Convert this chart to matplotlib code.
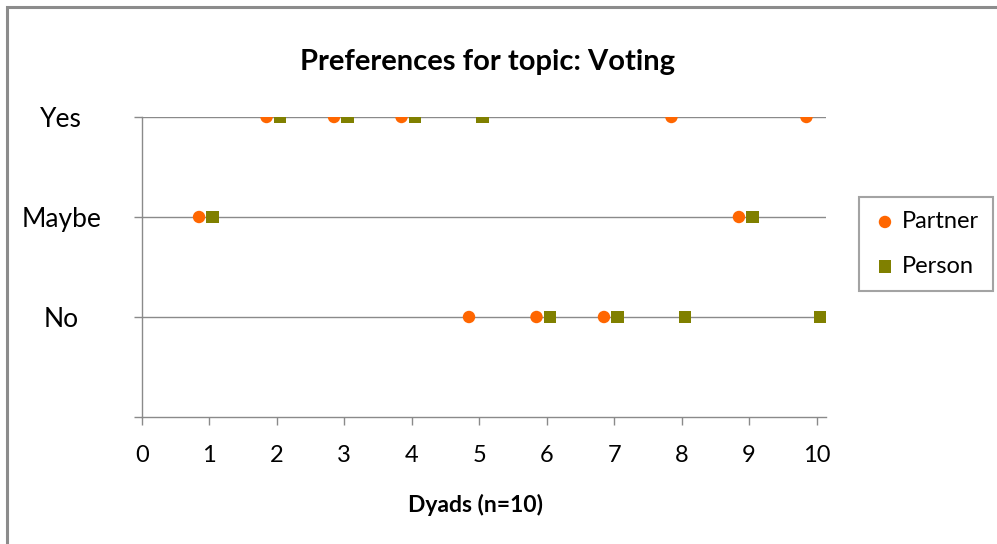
import matplotlib
matplotlib.use("Agg")
import matplotlib.pyplot as plt
from matplotlib.patches import Rectangle

plt.rcParams['font.family'] = ['Lato', 'DejaVu Sans']

# Data
response_labels = ["No", "Maybe", "Yes"]
response_values = [1, 2, 3]
partner_x = [0.85, 1.85, 2.85, 3.85, 4.85, 5.85, 6.85, 7.85, 8.85, 9.85]
partner_y = [2, 3, 3, 3, 1, 1, 1, 3, 2, 3]
person_x = [1.05, 2.05, 3.05, 4.05, 5.05, 6.05, 7.05, 8.05, 9.05, 10.05]
person_y = [2, 3, 3, 3, 3, 1, 1, 1, 2, 1]
x_ticks = list(range(0, 11))

W, H = 997, 544
fig = plt.figure(figsize=(W / 100, H / 100), dpi=100)
fig.patch.set_facecolor('white')

# outer chart border
fig.add_artist(Rectangle((7 / W, -0.1), 1.2, 1 - 7 / H + 0.1, transform=fig.transFigure,
                         fill=False, edgecolor='#8c8c8c', linewidth=2.2))

left, right, top, bottom = 141.7, 826, 117, 417
ax = fig.add_axes([left / W, 1 - bottom / H, (right - left) / W, (bottom - top) / H])

grid_c = '#8a8a8a'
for v in response_values:
    ax.axhline(v, color=grid_c, linewidth=1.0, zorder=1)

ax.scatter(partner_x, partner_y, marker='o', s=80, color='#FF6600', edgecolors='none',
           zorder=3, label='Partner')
ax.scatter(person_x, person_y, marker='s', s=80, color='#808000', edgecolors='none',
           zorder=3, label='Person')

ax.set_xlim(0, 10.14)
ax.set_ylim(0, 3)
ax.set_xticks(x_ticks)
ax.set_xticklabels([str(t) for t in x_ticks], fontsize=17)
ax.set_yticks([0] + response_values)
ax.set_yticklabels([""] + response_labels, fontsize=19, ha='center')
ax.tick_params(axis='y', pad=52, length=6, color=grid_c, width=1.0)
ax.tick_params(axis='x', pad=14, length=6, color=grid_c, width=1.0)

for s in ['top', 'right']:
    ax.spines[s].set_visible(False)
for s in ['left', 'bottom']:
    ax.spines[s].set_color(grid_c)
    ax.spines[s].set_linewidth(1.0)

fig.text(475 / W, 1 - 505 / H, "Dyads (n=10)", ha='center', va='center',
         fontsize=16.5, fontweight='bold')

fig.text(487 / W, 1 - 62 / H, "Preferences for topic: Voting", ha='center', va='center',
         fontsize=21, fontweight='bold')

leg = fig.legend(loc='upper left', bbox_to_anchor=(859 / W, 1 - 197 / H), frameon=True,
                 fancybox=False, edgecolor='#8c8c8c', fontsize=17, borderpad=0.6,
                 labelspacing=1.0, handletextpad=0.2, handlelength=1.0, borderaxespad=0)
leg.get_frame().set_linewidth(1.5)

fig.savefig("out.png", dpi=100, facecolor='white')
